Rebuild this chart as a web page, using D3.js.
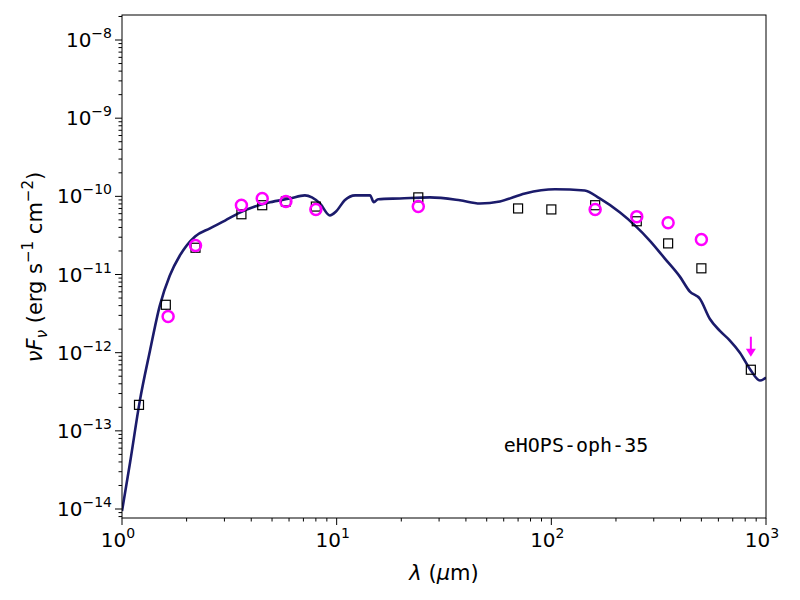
<!DOCTYPE html>
<html><head><meta charset="utf-8">
<script src="https://cdn.jsdelivr.net/npm/d3@7"></script>
<style>body{margin:0;background:#fff}text{font-family:"DejaVu Sans",sans-serif}</style>
</head><body><svg id="c" width="800" height="600"></svg>
<script>
// photometry (squares)
const sqLam = [1.2, 1.6, 2.2, 3.6, 4.5, 5.8, 8.0, 24, 70, 100, 160, 250, 350, 500, 850];
const sqFlux = [2.15e-13, 4.1e-12, 2.2e-11, 5.9e-11, 7.7e-11, 8.6e-11, 7.4e-11, 9.7e-11, 7.0e-11, 6.8e-11, 7.7e-11, 4.8e-11, 2.5e-11, 1.2e-11, 6.05e-13];
// circles
const ciLam = [1.64, 2.2, 3.6, 4.5, 5.8, 8.0, 24, 160, 250, 350, 500];
const ciFlux = [2.9e-12, 2.35e-11, 7.7e-11, 9.4e-11, 8.6e-11, 6.8e-11, 7.4e-11, 6.8e-11, 5.5e-11, 4.6e-11, 2.8e-11];
// upper limit
const ulLam = [850];
const ulFlux = [1.6e-12];
// model SED
const modLam = [1.0, 1.09, 1.21, 1.35, 1.50, 1.67, 1.86, 2.19, 2.57, 3.02, 3.54, 4.16, 4.89, 6.06, 7.11, 7.67, 8.36, 9.3, 9.93, 10.9, 12.2, 14.3, 14.9, 15.6, 19.7, 27.2, 37.5, 46.5, 57.6, 75.4, 104, 143, 168, 209, 245, 288, 338, 397, 442, 492, 548, 610, 679, 756, 841, 937, 1000];
const modFlux = [9.4e-15, 3.9e-14, 2.4e-13, 1.06e-12, 4.0e-12, 9.7e-12, 1.75e-11, 3.07e-11, 3.9e-11, 4.9e-11, 6.2e-11, 7.4e-11, 8.4e-11, 9.4e-11, 1.03e-10, 9.7e-11, 8.1e-11, 5.7e-11, 6.4e-11, 8.9e-11, 1.03e-10, 1.03e-10, 8.4e-11, 9.2e-11, 9.4e-11, 9.7e-11, 8.9e-11, 8.1e-11, 8.6e-11, 1.09e-10, 1.23e-10, 1.19e-10, 9.4e-11, 6.2e-11, 4.25e-11, 2.7e-11, 1.6e-11, 9.4e-12, 6.05e-12, 4.9e-12, 2.7e-12, 1.9e-12, 1.43e-12, 1.0e-12, 6.2e-13, 4.4e-13, 4.8e-13];
const xTicks = [0, 1, 2, 3];
const yTicks = [-14, -13, -12, -11, -10, -9, -8];

const svg = d3.select('#c');
const L = 122, R = 766, T = 15, B = 518;
const x = d3.scaleLog().domain([1, 1000]).range([L, R]);
const y = d3.scaleLog().domain([Math.pow(10, -14.115), Math.pow(10, -7.68)]).range([B, T]);

// minor ticks
const g = svg.append('g');
for (let e = 0; e < 3; e++) for (let m = 2; m < 10; m++) {
  const px = x(m * Math.pow(10, e));
  g.append('line').attr('x1', px).attr('x2', px).attr('y1', B).attr('y2', B + 3.5).attr('stroke', '#000');
}
for (let e = -15; e < -7; e++) for (let m = 2; m < 10; m++) {
  const v = m * Math.pow(10, e);
  if (v < y.domain()[0] || v > y.domain()[1]) continue;
  g.append('line').attr('x1', L - 3.5).attr('x2', L).attr('y1', y(v)).attr('y2', y(v)).attr('stroke', '#000');
}
xTicks.forEach(e => {
  const px = x(Math.pow(10, e));
  g.append('line').attr('x1', px).attr('x2', px).attr('y1', B).attr('y2', B + 7).attr('stroke', '#000');
  const t = g.append('text').attr('x', px - 4).attr('y', B + 29).attr('text-anchor', 'middle').attr('font-size', 20);
  t.append('tspan').text('10');
  t.append('tspan').attr('dy', -9).attr('font-size', 14).text(e);
});
yTicks.forEach(e => {
  const py = y(Math.pow(10, e));
  g.append('line').attr('x1', L - 7).attr('x2', L).attr('y1', py).attr('y2', py).attr('stroke', '#000');
  const t = g.append('text').attr('x', L - 10).attr('y', py + 7).attr('text-anchor', 'end').attr('font-size', 20);
  t.append('tspan').text('10');
  t.append('tspan').attr('dy', -9).attr('font-size', 14).text('\u2212' + Math.abs(e));
});

svg.append('defs').append('clipPath').attr('id', 'cp').append('rect')
  .attr('x', L).attr('y', T).attr('width', R - L).attr('height', B - T);

const line = d3.line().x(d => x(d[0])).y(d => y(d[1])).curve(d3.curveMonotoneX);
svg.append('path').attr('clip-path', 'url(#cp)').datum(d3.zip(modLam, modFlux))
  .attr('d', line).attr('fill', 'none').attr('stroke', '#1b1b6b').attr('stroke-width', 2.6);

svg.append('g').selectAll('rect').data(d3.zip(sqLam, sqFlux)).join('rect')
  .attr('x', d => x(d[0]) - 4.5).attr('y', d => y(d[1]) - 4.5).attr('width', 9).attr('height', 9)
  .attr('fill', 'none').attr('stroke', '#000').attr('stroke-width', 1.2);

svg.append('g').selectAll('circle').data(d3.zip(ciLam, ciFlux)).join('circle')
  .attr('cx', d => x(d[0])).attr('cy', d => y(d[1])).attr('r', 5.5)
  .attr('fill', 'none').attr('stroke', '#ff00ff').attr('stroke-width', 2.5);

d3.zip(ulLam, ulFlux).forEach(d => {
  const px = x(d[0]), py = y(d[1]);
  svg.append('line').attr('x1', px).attr('x2', px).attr('y1', py).attr('y2', py + 14).attr('stroke', '#ff00ff').attr('stroke-width', 2);
  svg.append('path').attr('d', `M${px - 5},${py + 12}L${px + 5},${py + 12}L${px},${py + 20}Z`).attr('fill', '#ff00ff');
});

svg.append('rect').attr('x', L).attr('y', T).attr('width', R - L).attr('height', B - T)
  .attr('fill', 'none').attr('stroke', '#000').attr('stroke-width', 1);

svg.append('text').attr('x', 576).attr('y', 452).attr('text-anchor', 'middle')
  .style('font-family', '"DejaVu Sans Mono", monospace').attr('font-size', 20).text('eHOPS-oph-35');

const xl = svg.append('text').attr('x', 444).attr('y', 580).attr('text-anchor', 'middle').attr('font-size', 21);
xl.append('tspan').attr('font-style', 'italic').text('λ');
xl.append('tspan').text(' (');
xl.append('tspan').attr('font-style', 'italic').text('μ');
xl.append('tspan').text('m)');

const yl = svg.append('text').attr('transform', 'translate(42,267) rotate(-90)').attr('text-anchor', 'middle').attr('font-size', 21);
yl.append('tspan').attr('font-style', 'italic').text('νF');
yl.append('tspan').attr('font-style', 'italic').attr('font-size', 15).attr('dy', 5).text('ν');
yl.append('tspan').attr('dy', -5).text(' (erg s');
yl.append('tspan').attr('font-size', 15).attr('dy', -9).text('−1');
yl.append('tspan').attr('dy', 9).text(' cm');
yl.append('tspan').attr('font-size', 15).attr('dy', -9).text('−2');
yl.append('tspan').attr('dy', 9).text(')');
</script></body></html>
